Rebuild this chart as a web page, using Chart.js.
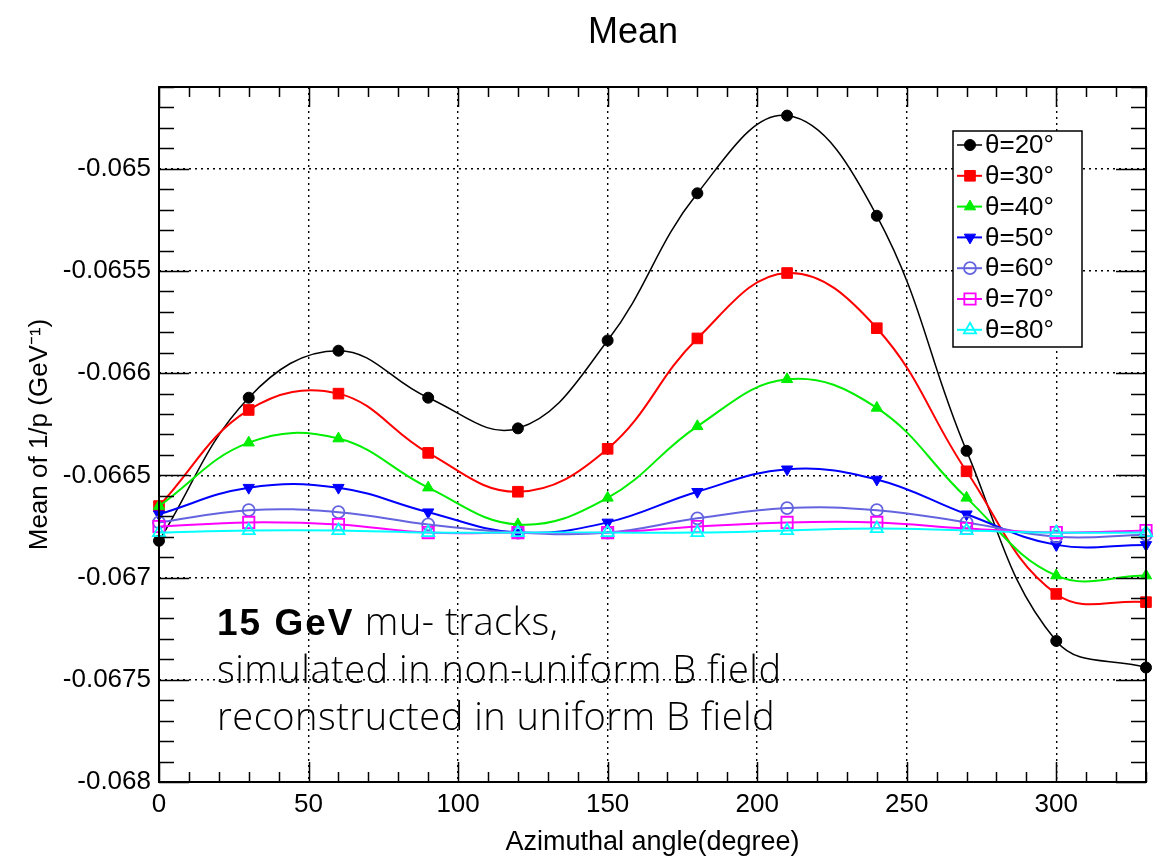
<!doctype html>
<html>
<head>
<meta charset="utf-8">
<title>Mean</title>
<script src="https://cdn.jsdelivr.net/npm/chart.js@4/dist/chart.umd.min.js"></script>
<style>
  body { margin: 0; background: #fff; }
</style>
</head>
<body>
<canvas id="chart-area" width="1160" height="856"></canvas>
<script>
// azimuthal angle (degree) of each measurement
var angles = [0, 30, 60, 90, 120, 150, 180, 210, 240, 270, 300, 330];

// mean of 1/p per polar angle
var theta20 = [-0.06682, -0.06612, -0.06589, -0.06612, -0.06627, -0.06584, -0.06512, -0.06474, -0.06523, -0.06638, -0.06731, -0.06744];
var theta30 = [-0.06665, -0.06618, -0.06610, -0.06639, -0.06658, -0.06637, -0.06583, -0.06551, -0.06578, -0.06648, -0.06708, -0.06712];
var theta40 = [-0.06665, -0.06634, -0.06632, -0.06656, -0.06674, -0.06661, -0.06626, -0.06603, -0.06617, -0.06661, -0.06699, -0.06699];
var theta50 = [-0.06669, -0.06656, -0.06656, -0.06668, -0.06678, -0.06673, -0.06658, -0.06647, -0.06652, -0.06669, -0.06684, -0.06684];
var theta60 = [-0.06673, -0.06667, -0.06668, -0.06674, -0.06678, -0.06678, -0.06671, -0.06666, -0.06667, -0.06673, -0.06680, -0.06679];
var theta70 = [-0.06675, -0.06673, -0.06674, -0.06678, -0.06678, -0.06678, -0.06675, -0.06673, -0.06673, -0.06676, -0.06678, -0.06677];
var theta80 = [-0.06678, -0.06677, -0.06677, -0.06678, -0.06678, -0.06678, -0.06678, -0.06677, -0.06676, -0.06677, -0.06678, -0.06678];

var seriesLabels = ['θ=20°', 'θ=30°', 'θ=40°', 'θ=50°', 'θ=60°', 'θ=70°', 'θ=80°'];
var seriesValues = [theta20, theta30, theta40, theta50, theta60, theta70, theta80];

var xTicks = [0, 50, 100, 150, 200, 250, 300];
var yTicks = [-0.068, -0.0675, -0.067, -0.0665, -0.066, -0.0655, -0.065];

var styles = [
  { color: '#000000', point: 'circle',   filled: true,  radius: 5.5, rot: 0,   width: 1.5 },
  { color: '#ff0000', point: 'rect',     filled: true,  radius: 7.5, rot: 0,   width: 2 },
  { color: '#00ee00', point: 'triangle', filled: true,  radius: 6.5, rot: 0,   width: 2 },
  { color: '#0000ff', point: 'triangle', filled: true,  radius: 6.5, rot: 180, width: 2 },
  { color: '#6464e0', point: 'circle',   filled: false, radius: 6,   rot: 0,   width: 2 },
  { color: '#ff00ff', point: 'rect',     filled: false, radius: 8,   rot: 0,   width: 2 },
  { color: '#00ffff', point: 'triangle', filled: false, radius: 7,   rot: 0,   width: 2 }
];

var FONT = "'Liberation Sans', Arial, sans-serif";

var datasets = seriesValues.map(function(vals, i) {
  var s = styles[i];
  return {
    label: seriesLabels[i],
    data: angles.map(function(a, j) { return { x: a, y: vals[j] }; }),
    borderColor: s.color,
    backgroundColor: s.filled ? s.color : 'rgba(0,0,0,0)',
    borderWidth: s.width,
    pointStyle: s.point,
    pointRadius: s.radius,
    pointRotation: s.rot,
    pointBorderWidth: s.filled ? 1 : 1.8,
    pointBorderColor: s.color,
    pointBackgroundColor: s.filled ? s.color : 'rgba(0,0,0,0)',
    tension: 0.4,
    clip: false,
    order: 7 - i
  };
});

// ROOT style frame with ticks pointing inwards, title, text and legend box
var frameTicks = {
  id: 'frameTicks',
  afterDatasetsDraw: function(chart) {
    var ctx = chart.ctx, a = chart.chartArea;
    var xs = chart.scales.x, ys = chart.scales.y;
    ctx.save();
    ctx.strokeStyle = '#000';
    ctx.lineWidth = 1.5;
    ctx.beginPath();
    for (var v = 0; v <= 330; v += 10) {
      var px = Math.round(xs.getPixelForValue(v)) + 0.5;
      var len = (v % 50 === 0) ? 20 : 10;
      ctx.moveTo(px, a.bottom); ctx.lineTo(px, a.bottom - len);
      ctx.moveTo(px, a.top); ctx.lineTo(px, a.top + len);
    }
    for (var k = 0; k <= 34; k++) {
      var val = -0.068 + k * 0.0001;
      var py = Math.round(ys.getPixelForValue(val)) + 0.5;
      var l2 = (k % 5 === 0) ? 30 : 15;
      ctx.moveTo(a.left, py); ctx.lineTo(a.left + l2, py);
      ctx.moveTo(a.right, py); ctx.lineTo(a.right - l2, py);
    }
    ctx.stroke();
    ctx.lineWidth = 2;
    ctx.strokeRect(a.left, a.top, a.right - a.left, a.bottom - a.top);

    // title
    ctx.fillStyle = '#000';
    ctx.textAlign = 'center';
    ctx.textBaseline = 'alphabetic';
    ctx.font = '36px ' + FONT;
    ctx.fillText('Mean', 633, 43);

    // annotation
    var tx = 217;
    ctx.fillStyle = '#000';
    ctx.textAlign = 'left';
    ctx.font = 'bold 37px ' + FONT;
    ctx.letterSpacing = '2px';
    ctx.fillText('15 GeV', tx, 635);
    var w = ctx.measureText('15 GeV').width;
    ctx.font = "300 38px 'Open Sans', " + FONT;
    ctx.letterSpacing = '0.5px';
    ctx.fillText(' mu- tracks,', tx + w, 635);
    ctx.fillText('simulated in non-uniform B field', tx, 683);
    ctx.fillText('reconstructed in uniform B field', tx, 730);
    ctx.letterSpacing = '0px';
    ctx.restore();
  },
  afterDraw: function(chart) {
    var ctx = chart.ctx;
    var box = { left: 953, top: 131, right: 1082, bottom: 347 };
    ctx.save();
    ctx.fillStyle = '#fff';
    ctx.fillRect(box.left, box.top, box.right - box.left, box.bottom - box.top);
    ctx.strokeStyle = '#000';
    ctx.lineWidth = 1.5;
    ctx.strokeRect(box.left, box.top, box.right - box.left, box.bottom - box.top);
    chart.data.datasets.forEach(function(ds, i) {
      var y = 145 + i * 30.8;
      ctx.strokeStyle = ds.borderColor;
      ctx.lineWidth = ds.borderWidth;
      ctx.beginPath();
      ctx.moveTo(957, y); ctx.lineTo(982, y);
      ctx.stroke();
      ctx.fillStyle = ds.pointBackgroundColor;
      ctx.lineWidth = ds.pointBorderWidth;
      Chart.helpers.drawPoint(ctx, {
        pointStyle: ds.pointStyle,
        rotation: ds.pointRotation,
        radius: ds.pointRadius,
        borderWidth: ds.pointBorderWidth
      }, 970, y);
      ctx.fillStyle = '#000';
      ctx.font = '26px ' + FONT;
      ctx.textBaseline = 'middle';
      ctx.textAlign = 'left';
      ctx.fillText(ds.label, 985, y + 1);
    });
    ctx.restore();
  }
};

var config = {
  type: 'line',
  data: { datasets: datasets },
  options: {
    responsive: false,
    animation: false,
    layout: { padding: { left: 0, right: 14, top: 87, bottom: 0 } },
    plugins: {
      legend: { display: false },
      tooltip: { enabled: false },
      title: { display: false }
    },
    scales: {
      x: {
        type: 'linear',
        min: 0,
        max: 330,
        afterBuildTicks: function(s) { s.ticks = xTicks.map(function(v) { return { value: v }; }); },
        afterFit: function(s) { s.height = 74; },
        ticks: { color: '#000', font: { family: FONT, size: 26 }, padding: 7, maxRotation: 0 },
        grid: { color: '#000', lineWidth: 1.4, drawTicks: false },
        border: { display: false, dash: [2, 4] },
        title: {
          display: true,
          text: 'Azimuthal angle(degree)',
          color: '#000',
          font: { family: FONT, size: 27, lineHeight: 1 },
          padding: { top: 0, bottom: 0 }
        }
      },
      y: {
        type: 'linear',
        min: -0.068,
        max: -0.0646,
        afterBuildTicks: function(s) { s.ticks = yTicks.map(function(v) { return { value: v }; }); },
        afterFit: function(s) { s.width = 159; },
        ticks: {
          color: '#000',
          font: { family: FONT, size: 26 },
          padding: 8,
          callback: function(v) { return String(+v.toFixed(4)); }
        },
        grid: { color: '#000', lineWidth: 1.4, drawTicks: false },
        border: { display: false, dash: [2, 4] },
        title: {
          display: true,
          text: 'Mean of 1/p (GeV⁻¹)',
          color: '#000',
          font: { family: FONT, size: 26, lineHeight: 1 },
          padding: { top: 27, bottom: 0 }
        }
      }
    }
  },
  plugins: [frameTicks]
};

window.onload = function() {
  var ctx = document.getElementById('chart-area').getContext('2d');
  window.myChart = new Chart(ctx, config);
};
</script>
</body>
</html>
